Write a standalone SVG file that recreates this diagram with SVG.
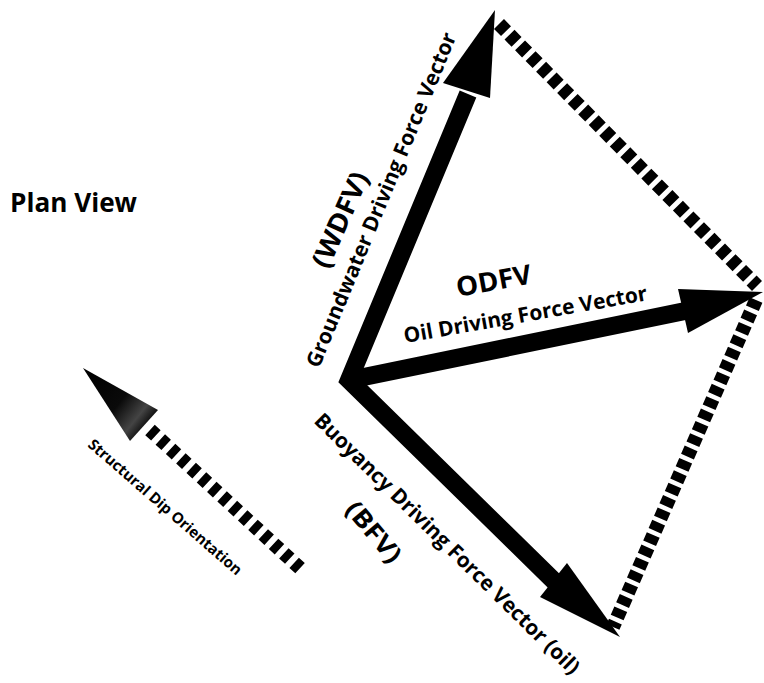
<svg xmlns="http://www.w3.org/2000/svg" width="764" height="683" viewBox="0 0 764 683">
<style>
.t{font-family:"Open Sans","Liberation Sans",sans-serif;font-weight:700;fill:#000}
.shaft{fill:none;stroke:#000;stroke-width:18;stroke-linejoin:miter;stroke-miterlimit:10}
.dash{fill:none;stroke:#000;stroke-width:14}
.head{fill:#000}
</style>
<defs>
<linearGradient id="dipg" gradientUnits="userSpaceOnUse" x1="90" y1="372" x2="150" y2="420">
<stop offset="0" stop-color="#000"/>
<stop offset="0.55" stop-color="#0a0a0a"/>
<stop offset="0.85" stop-color="#444"/>
<stop offset="1" stop-color="#111"/>
</linearGradient>
</defs>
<rect width="764" height="683" fill="#fff"/>
<g id="connectors">
<g id="dashes">
<line class="dash" x1="499" y1="24" x2="757" y2="286" stroke-dasharray="10 5"/>
<line class="dash" x1="756" y1="300" x2="613" y2="627" stroke-dasharray="9 4.5"/>
<line class="dash" x1="150" y1="430" x2="302" y2="570" stroke-width="13" stroke-dasharray="8 6"/>
</g>
<g id="wdfv-bfv">
<polyline class="shaft" points="468,94 349,380 555,582"/>
<polygon class="head" points="495,10 443,83 490,98"/>
<polygon class="head" points="567,563 540,597 620,637"/>
</g>
<g id="odfv">
<line class="shaft" x1="349" y1="380" x2="690" y2="310" stroke-width="20"/>
<polygon class="head" points="678,289 688,333 763,292"/>
</g>
<g id="dip">
<polygon points="83,368 158,410 130,441" fill="url(#dipg)"/>
</g>
</g>
<g id="label-plan"><text class="t" x="10" y="212" font-size="27" textLength="127" lengthAdjust="spacingAndGlyphs">Plan View</text></g>
<g id="label-odfv">
<text class="t" font-size="27" transform="translate(458,297) rotate(-10.5)" textLength="76" lengthAdjust="spacingAndGlyphs">ODFV</text>
<text class="t" font-size="21" font-weight="600" transform="translate(405,343) rotate(-10)" textLength="247" lengthAdjust="spacingAndGlyphs">Oil Driving Force Vector</text>
</g>
<g id="label-wdfv">
<text class="t" font-size="21" font-weight="600" transform="translate(319,369) rotate(-67.5)" textLength="360" lengthAdjust="spacingAndGlyphs">Groundwater Driving Force Vector</text>
<text class="t" font-size="27" transform="translate(328,270) rotate(-66)" textLength="102" lengthAdjust="spacingAndGlyphs">(WDFV)</text>
</g>
<g id="label-bfv">
<text class="t" font-size="21" font-weight="600" transform="translate(313,422) rotate(44.5)" textLength="362" lengthAdjust="spacingAndGlyphs">Buoyancy Driving Force Vector (oil)</text>
<text class="t" font-size="25" transform="translate(344,510) rotate(50)" textLength="72" lengthAdjust="spacingAndGlyphs">(BFV)</text>
</g>
<g id="label-dip"><text class="t" font-size="15" font-weight="800" transform="translate(87,446) rotate(41)" textLength="198" lengthAdjust="spacingAndGlyphs">Structural Dip Orientation</text></g>
</svg>
